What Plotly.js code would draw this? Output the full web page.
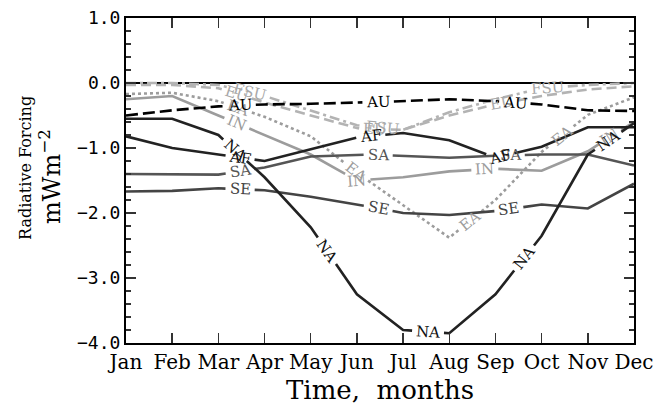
<!DOCTYPE html>
<html><head><meta charset="utf-8">
<script src="https://cdn.plot.ly/plotly-3.0.1.min.js"></script>
<style>html,body{margin:0;padding:0;background:#fff}</style>
</head><body>
<div id="chart" style="width:666px;height:414px"></div>
<script>
// ---- data ----
const months = ['Jan','Feb','Mar','Apr','May','Jun','Jul','Aug','Sep','Oct','Nov','Dec'];
const AU  = [-0.50,-0.42,-0.36,-0.33,-0.32,-0.30,-0.28,-0.25,-0.28,-0.33,-0.42,-0.43];
const NA  = [-0.55,-0.55,-0.80,-1.45,-2.22,-3.25,-3.80,-3.85,-3.25,-2.35,-1.10,-0.62];
const AF  = [-0.82,-1.00,-1.10,-1.20,-1.02,-0.84,-0.77,-0.88,-1.15,-0.98,-0.68,-0.68];
const SA  = [-1.40,-1.41,-1.41,-1.30,-1.13,-1.10,-1.12,-1.15,-1.12,-1.10,-1.10,-1.27];
const SE  = [-1.67,-1.66,-1.62,-1.65,-1.75,-1.87,-2.00,-2.03,-1.97,-1.87,-1.93,-1.55];
const IN  = [-0.25,-0.20,-0.50,-0.80,-1.10,-1.50,-1.45,-1.36,-1.32,-1.35,-1.05,-0.60];
const EA  = [-0.17,-0.15,-0.28,-0.52,-0.82,-1.38,-1.88,-2.38,-1.80,-1.06,-0.49,-0.22];
const FSU = [ 0.00, 0.00,-0.03,-0.20,-0.42,-0.65,-0.72,-0.45,-0.25,-0.08,-0.03, 0.00];
const EU  = [-0.03,-0.03,-0.08,-0.30,-0.50,-0.70,-0.72,-0.50,-0.33,-0.20,-0.10,-0.05];

// ---- layout geometry ----
const W = 666, H = 414, M = {l:126, r:32, t:18, b:71};
const XR = [0, 11], YR = [-4, 1];
const PW = W - M.l - M.r, PH = H - M.t - M.b;
const SX = PW / (XR[1]-XR[0]), SY = PH / (YR[1]-YR[0]);
const toPx = (x,y) => [M.l + (x-XR[0])*SX, M.t + (YR[1]-y)*SY];
const toData = (X,Y) => [(X-M.l)/SX + XR[0], YR[1] - (Y-M.t)/SY];

const LABEL_FONT = {family:'DejaVu Serif, serif', size:15};
const ctx = document.createElement('canvas').getContext('2d');
ctx.font = LABEL_FONT.size + 'px "DejaVu Serif"';

const styles = [
  {name:'EU',  values:EU,  color:'#b3b3b3', lc:'#a8a8a8', dash:'10px,5px',          labelAt:[2.40,5.39,8.14]},
  {name:'FSU', values:FSU, color:'#b3b3b3', lc:'#a8a8a8', dash:'10px,4px,3px,4px',  labelAt:[2.68,5.56,9.12]},
  {name:'EA',  values:EA,  color:'#9c9c9c', lc:'#9c9c9c', dash:'3px,3px',           labelAt:[2.42,4.98,7.45,9.44]},
  {name:'IN',  values:IN,  color:'#9c9c9c', lc:'#9c9c9c', dash:'solid',             labelAt:[2.40,5.00,7.77,10.48]},
  {name:'SE',  values:SE,  color:'#444444', lc:'#444444', dash:'solid',             labelAt:[2.47,5.46,8.29]},
  {name:'SA',  values:SA,  color:'#555555', lc:'#555555', dash:'solid',             labelAt:[2.47,5.46,8.32]},
  {name:'AF',  values:AF,  color:'#222222', lc:'#111111', dash:'solid',             labelAt:[2.47,5.30,8.10]},
  {name:'NA',  values:NA,  color:'#222222', lc:'#111111', dash:'solid',             labelAt:[2.36,4.35,6.54,8.62,10.44]},
  {name:'AU',  values:AU,  color:'#000000', lc:'#000000', dash:'12px,5px',          labelAt:[2.47,5.46,8.42]}
];

const traces = [], annotations = [];

styles.forEach(s => {
  const pts = s.values.map((v,i) => toPx(i, v));
  const cum = [0];
  for (let i=1;i<pts.length;i++) cum.push(cum[i-1] + Math.hypot(pts[i][0]-pts[i-1][0], pts[i][1]-pts[i-1][1]));
  const total = cum[cum.length-1];
  const pointAt = sArc => {
    let i = 0;
    while (i < pts.length-2 && cum[i+1] < sArc) i++;
    const seg = cum[i+1]-cum[i];
    const t = seg > 0 ? (sArc-cum[i])/seg : 0;
    return [pts[i][0] + t*(pts[i+1][0]-pts[i][0]), pts[i][1] + t*(pts[i+1][1]-pts[i][1])];
  };
  const w = ctx.measureText(s.name).width;
  const cuts = s.labelAt.map(lx => {
    const X = toPx(lx, 0)[0];
    let i = Math.min(Math.floor(lx), pts.length-2);
    const t = (X - pts[i][0])/(pts[i+1][0]-pts[i][0]);
    const s0 = cum[i] + t*(cum[i+1]-cum[i]);
    const dx = pts[i+1][0]-pts[i][0], dy = pts[i+1][1]-pts[i][1];
    let ang = Math.atan2(dy, dx)*180/Math.PI;
    if (ang > 90) ang -= 180; if (ang < -90) ang += 180;
    const cx = pts[i][0] + t*dx, cy = pts[i][1] + t*dy;
    return {s0, half: w/2 + 4, ang, c: toData(cx, cy)};
  }).sort((a,b)=>a.s0-b.s0);

  const xs = [], ys = [];
  const pushPx = p => { const d = toData(p[0], p[1]); xs.push(d[0]); ys.push(d[1]); };
  let start = 0;
  const ranges = cuts.map(c => [c.s0-c.half, c.s0+c.half]);
  ranges.push([total, total]);
  ranges.forEach(([a,b]) => {
    const end = Math.min(a, total);
    if (end > start) {
      pushPx(pointAt(start));
      for (let i=0;i<pts.length;i++) if (cum[i] > start && cum[i] < end) pushPx(pts[i]);
      pushPx(pointAt(end));
      xs.push(null); ys.push(null);
    }
    start = Math.max(start, b);
  });

  traces.push({
    type:'scatter', mode:'lines', name:s.name, x:xs, y:ys,
    line:{color:s.color, width:2.6, dash:s.dash}, hoverinfo:'skip', showlegend:false
  });
  cuts.forEach(c => annotations.push({
    x:c.c[0], y:c.c[1], xref:'x', yref:'y', text:s.name, showarrow:false,
    textangle:c.ang, xanchor:'center', yanchor:'middle',
    font:{family:LABEL_FONT.family, size:LABEL_FONT.size, color:s.lc}
  }));
});

annotations.push({
  xref:'paper', yref:'paper', x:0.5, y:0, xanchor:'center', yanchor:'middle', yshift:-47,
  text:'Time,  months', showarrow:false,
  font:{family:'DejaVu Serif, serif', size:26, color:'#000'}
});
annotations.push({
  xref:'paper', yref:'paper', x:0, y:(H-M.b-168)/PH, xanchor:'center', yanchor:'middle', xshift:25-M.l,
  text:'Radiative Forcing', showarrow:false, textangle:-90,
  font:{family:'DejaVu Serif, serif', size:16, color:'#000'}
});
annotations.push({
  xref:'paper', yref:'paper', x:0, y:(H-M.b-177)/PH, xanchor:'center', yanchor:'middle', xshift:50-M.l,
  text:'mWm<sup>\u22122</sup>', showarrow:false, textangle:-90,
  font:{family:'DejaVu Serif, serif', size:24, color:'#000'}
});

const layout = {
  width:W, height:H, margin:M, paper_bgcolor:'#fff', plot_bgcolor:'#fff', showlegend:false,
  xaxis:{
    range:XR, tickvals:months.map((m,i)=>i), ticktext:months, ticks:'inside', ticklen:10,
    tickwidth:1.5, tickcolor:'#333', showline:true, linewidth:2, linecolor:'#000', mirror:'ticks',
    showgrid:false, zeroline:false, tickfont:{family:'DejaVu Serif, serif', size:20, color:'#000'}
  },
  yaxis:{
    range:YR, dtick:1, tick0:0, tickformat:'.1f', ticks:'inside', ticklen:10, tickwidth:1.5, tickcolor:'#333',
    showline:true, linewidth:2, linecolor:'#000', mirror:'ticks', showgrid:false,
    zeroline:true, zerolinecolor:'#000', zerolinewidth:2.6,
    minor:{dtick:0.2, tick0:0, ticks:'inside', ticklen:5, tickwidth:1.5, tickcolor:'#333', showgrid:false},
    tickfont:{family:'DejaVu Sans Mono, monospace', size:18, color:'#000'}
  },
  annotations
};
Plotly.newPlot('chart', traces, layout, {displayModeBar:false, staticPlot:true});
</script>
</body></html>
